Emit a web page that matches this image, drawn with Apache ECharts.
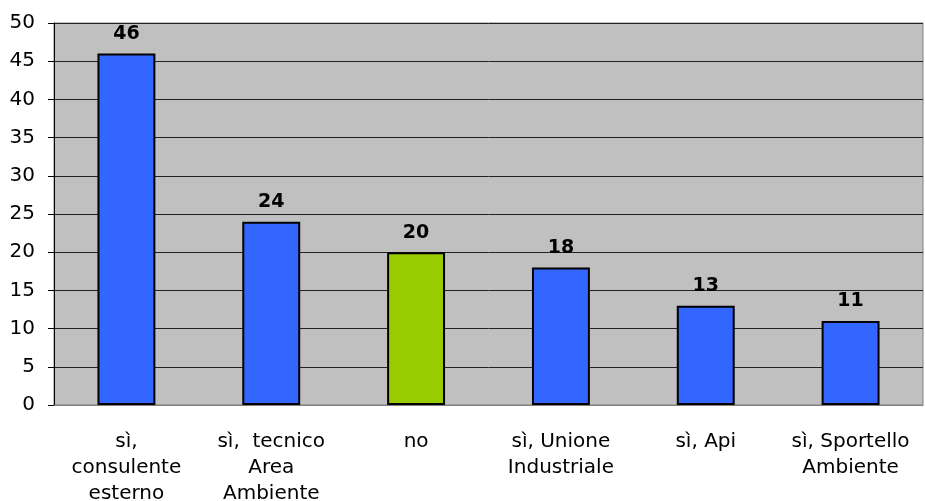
<!DOCTYPE html>
<html><head><meta charset="utf-8">
<script src="https://cdn.jsdelivr.net/npm/echarts@6/dist/echarts.min.js"></script>
<style>html,body{margin:0;padding:0;background:#fff;overflow:hidden}#c{width:925px;height:501px}</style>
</head><body><div id="c"></div>
<script>
var categories = ["sì,\nconsulente\nesterno", "sì,  tecnico\nArea\nAmbiente", "no", "sì, Unione\nIndustriale", "sì, Api", "sì, Sportello\nAmbiente"];
var values = [46, 24, 20, 18, 13, 11];
var barColors = ["#3366FF", "#3366FF", "#99CC00", "#3366FF", "#3366FF", "#3366FF"];
var yTicks = {min: 0, max: 50, interval: 5};

var font = "'DejaVu Sans', Verdana, sans-serif";
var chart = echarts.init(document.getElementById('c'), null, {renderer: 'canvas', width: 925, height: 501});
chart.setOption({
  animation: false,
  grid: {left: 54, right: 2, top: 23, bottom: 96, outerBoundsMode: 'none', containLabel: false,
         show: true, backgroundColor: '#C0C0C0', borderColor: '#808080', borderWidth: 1},
  xAxis: {
    type: 'category', data: categories,
    axisLine: {show: true, lineStyle: {color: '#808080', width: 1}},
    axisTick: {show: false},
    axisLabel: {interval: 0, color: '#000', fontFamily: font, fontSize: 20, lineHeight: 26, margin: 24}
  },
  yAxis: {
    type: 'value', min: yTicks.min, max: yTicks.max, interval: yTicks.interval,
    axisLine: {show: true, lineStyle: {color: '#000', width: 1}},
    axisTick: {show: true, length: 6, lineStyle: {color: '#000'}},
    splitLine: {show: true, lineStyle: {color: '#222', width: 1}},
    axisLabel: {color: '#000', fontFamily: font, fontSize: 20, margin: 19}
  },
  series: [{
    type: 'bar', barWidth: '40%',
    data: values.map(function (v, i) { return {value: v, itemStyle: {color: barColors[i]}}; }),
    itemStyle: {borderColor: '#000', borderWidth: 2},
    label: {show: true, position: 'top', distance: 10, color: '#000', fontFamily: font, fontWeight: 'bold', fontSize: 19}
  }]
});
</script></body></html>
